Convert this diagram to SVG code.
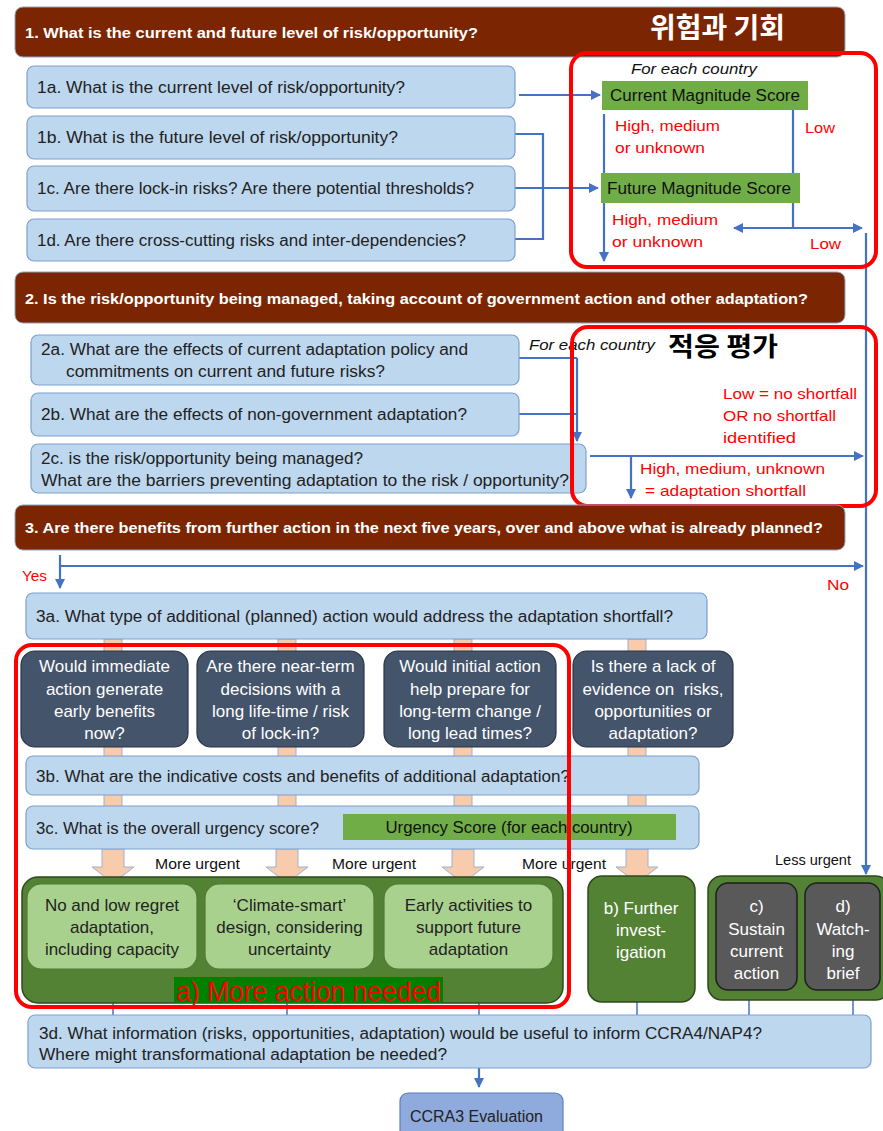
<svg xmlns="http://www.w3.org/2000/svg" width="883" height="1131" viewBox="0 0 883 1131">
  <defs>
    <marker id="arr" viewBox="0 0 10 10" refX="9" refY="5" markerWidth="10" markerHeight="10" markerUnits="userSpaceOnUse" orient="auto-start-reverse">
      <path d="M0,0 L10,5 L0,10 z" fill="#4472C4"/>
    </marker>
    <style>
      text { font-family: "Liberation Sans", Arial, sans-serif; }
      .hdr { fill: #7B2502; stroke: #8FA3C0; stroke-width: 1; }
      .hdrt { fill: #ffffff; font-size: 15px; font-weight: bold; }
      .q { fill: #BDD7EE; stroke: #7F9FCF; stroke-width: 1.2; }
      .qt { fill: #222222; font-size: 16px; }
      .red { fill: none; stroke: #FF0000; stroke-width: 4; }
      .rt { fill: #FF0000; font-size: 15px; }
      .score { fill: #70AD47; }
      .st { fill: #111111; font-size: 16px; }
      .it { fill: #111111; font-size: 14px; font-style: italic; }
      .dark { fill: #44546A; stroke: #2A3546; stroke-width: 1.2; }
      .wt { fill: #ffffff; font-size: 17px; text-anchor: middle; white-space: pre; }
      .cont { fill: #548235; stroke: #2E4A1C; stroke-width: 1.5; }
      .lg { fill: #A9D18E; stroke: #4F7A33; stroke-width: 1.2; }
      .gt { fill: #222222; font-size: 17px; text-anchor: middle; }
      .grey { fill: #595959; stroke: #1E1E1E; stroke-width: 1.5; }
      .peach { fill: #F8CBAD; stroke: #9DB0D0; stroke-width: 1; }
      .conn { fill: none; stroke: #4472C4; stroke-width: 2.2; }
      .thin { fill: none; stroke: #4472C4; stroke-width: 1.5; }
      .urg { fill: #111111; font-size: 14px; }
      .kr { font-family: "Noto Sans CJK KR", sans-serif; font-weight: bold; }
    </style>
  </defs>

  <rect width="883" height="1131" fill="#ffffff"/>

  <!-- connectors -->
  <g id="connectors">
    <path class="conn" d="M519,95 H600" marker-end="url(#arr)"/>
    <path class="conn" d="M515,134 H543 V239 H515"/>
    <path class="conn" d="M515,188 H598" marker-end="url(#arr)"/>
    <path class="conn" d="M604,114 V261" marker-end="url(#arr)"/>
    <path class="conn" d="M793,110 V228"/>
    <path class="conn" d="M734,228 H862" marker-start="url(#arr)" marker-end="url(#arr)"/>
    <path class="conn" d="M866,233 V874" marker-end="url(#arr)"/>
    <path class="conn" d="M519,358 H577 M519,414 H577"/>
    <path class="conn" d="M577,358 V441" marker-end="url(#arr)"/>
    <path class="conn" d="M590,456 H863" marker-end="url(#arr)"/>
    <path class="conn" d="M631,456 V498" marker-end="url(#arr)"/>
    <path class="conn" d="M60,566 H863" marker-end="url(#arr)"/>
    <path class="conn" d="M60,555 V588" marker-end="url(#arr)"/>
    <path class="thin" d="M113,1003 V1015 M287,1003 V1015 M479,1003 V1015 M637,1002 V1015 M749,990 V1015 M853,990 V1015"/>
    <path class="conn" d="M479,1068 V1087" marker-end="url(#arr)"/>
    <!-- peach flow columns -->
    <rect class="peach" x="104" y="639" width="18" height="211"/>
    <rect class="peach" x="278" y="639" width="18" height="211"/>
    <rect class="peach" x="454" y="639" width="18" height="211"/>
    <rect class="peach" x="628" y="639" width="18" height="211"/>
    <path class="peach" d="M102,849 H124 V867 H134 L113,883 L92,867 H102 Z"/>
    <path class="peach" d="M276,849 H298 V867 H308 L287,883 L266,867 H276 Z"/>
    <path class="peach" d="M452,849 H474 V867 H484 L463,883 L442,867 H452 Z"/>
    <path class="peach" d="M626,849 H648 V867 H658 L637,883 L616,867 H626 Z"/>
  </g>

  <!-- section 1 -->
  <g id="header1">
    <rect class="hdr" x="15" y="7" width="830" height="50" rx="8"/>
    <text class="hdrt" x="25" y="38" textLength="453" lengthAdjust="spacingAndGlyphs">1. What is the current and future level of risk/opportunity?</text>
    <text class="kr" x="650" y="38" font-size="28" fill="#ffffff" textLength="135" lengthAdjust="spacingAndGlyphs">위험과 기회</text>
  </g>
  <g id="q1a">
    <rect class="q" x="27" y="66" width="488" height="42" rx="7"/>
    <text class="qt" x="37" y="93" textLength="368" lengthAdjust="spacingAndGlyphs">1a. What is the current level of risk/opportunity?</text>
  </g>
  <g id="q1b">
    <rect class="q" x="27" y="116" width="488" height="43" rx="7"/>
    <text class="qt" x="37" y="143" textLength="361" lengthAdjust="spacingAndGlyphs">1b. What is the future level of risk/opportunity?</text>
  </g>
  <g id="q1c">
    <rect class="q" x="27" y="166" width="488" height="45" rx="7"/>
    <text class="qt" x="37" y="194" textLength="437" lengthAdjust="spacingAndGlyphs">1c. Are there lock-in risks? Are there potential thresholds?</text>
  </g>
  <g id="q1d">
    <rect class="q" x="27" y="219" width="488" height="42" rx="7"/>
    <text class="qt" x="37" y="246" textLength="429" lengthAdjust="spacingAndGlyphs">1d. Are there cross-cutting risks and inter-dependencies?</text>
  </g>
  <g id="magnitude">
    <text class="it" x="631" y="74" textLength="126" lengthAdjust="spacingAndGlyphs">For each country</text>
    <rect class="score" x="602" y="81" width="206" height="29"/>
    <text class="st" x="610" y="101" textLength="190" lengthAdjust="spacingAndGlyphs">Current Magnitude Score</text>
    <rect class="score" x="601" y="173" width="199" height="30"/>
    <text class="st" x="607" y="194" textLength="184" lengthAdjust="spacingAndGlyphs">Future Magnitude Score</text>
    <text class="rt" x="615" y="131" textLength="105" lengthAdjust="spacingAndGlyphs">High, medium</text>
    <text class="rt" x="615" y="153" textLength="90" lengthAdjust="spacingAndGlyphs">or unknown</text>
    <text class="rt" x="805" y="133" textLength="30" lengthAdjust="spacingAndGlyphs">Low</text>
    <text class="rt" x="612" y="225" textLength="106" lengthAdjust="spacingAndGlyphs">High, medium</text>
    <text class="rt" x="612" y="247" textLength="91" lengthAdjust="spacingAndGlyphs">or unknown</text>
    <text class="rt" x="810" y="249" textLength="31" lengthAdjust="spacingAndGlyphs">Low</text>
    <rect class="red" x="571" y="53" width="305" height="214" rx="16"/>
  </g>

  <!-- section 2 -->
  <g id="header2">
    <rect class="hdr" x="15" y="272" width="830" height="51" rx="8"/>
    <text class="hdrt" x="25" y="304" textLength="783" lengthAdjust="spacingAndGlyphs">2. Is the risk/opportunity being managed, taking account of government action and other adaptation?</text>
  </g>
  <g id="q2a">
    <rect class="q" x="31" y="335" width="488" height="50" rx="7"/>
    <text class="qt" x="41" y="355" textLength="427" lengthAdjust="spacingAndGlyphs">2a. What are the effects of current adaptation policy and</text>
    <text class="qt" x="66" y="377" textLength="319" lengthAdjust="spacingAndGlyphs">commitments on current and future risks?</text>
  </g>
  <g id="q2b">
    <rect class="q" x="31" y="393" width="488" height="43" rx="7"/>
    <text class="qt" x="41" y="420" textLength="426" lengthAdjust="spacingAndGlyphs">2b. What are the effects of non-government adaptation?</text>
  </g>
  <g id="q2c">
    <rect class="q" x="31" y="444" width="555" height="49" rx="7"/>
    <text class="qt" x="41" y="464" textLength="322" lengthAdjust="spacingAndGlyphs">2c. is the risk/opportunity being managed?</text>
    <text class="qt" x="41" y="486" textLength="528" lengthAdjust="spacingAndGlyphs">What are the barriers preventing adaptation to the risk / opportunity?</text>
  </g>
  <g id="adaptation">
    <text class="it" x="529" y="350" textLength="126" lengthAdjust="spacingAndGlyphs">For each country</text>
    <text class="kr" x="668" y="356" font-size="26" fill="#000000" textLength="110" lengthAdjust="spacingAndGlyphs">적응 평가</text>
    <text class="rt" x="723" y="399" textLength="134" lengthAdjust="spacingAndGlyphs">Low = no shortfall</text>
    <text class="rt" x="723" y="421" textLength="113" lengthAdjust="spacingAndGlyphs">OR no shortfall</text>
    <text class="rt" x="723" y="443" textLength="73" lengthAdjust="spacingAndGlyphs">identified</text>
    <text class="rt" x="640" y="474" textLength="185" lengthAdjust="spacingAndGlyphs">High, medium, unknown</text>
    <text class="rt" x="645" y="496" textLength="161" lengthAdjust="spacingAndGlyphs">= adaptation shortfall</text>
    <rect class="red" x="572" y="327" width="304" height="179" rx="16"/>
  </g>

  <!-- section 3 -->
  <g id="header3">
    <rect class="hdr" x="15" y="505" width="830" height="45" rx="8"/>
    <text class="hdrt" x="25" y="533" textLength="798" lengthAdjust="spacingAndGlyphs">3. Are there benefits from further action in the next five years, over and above what is already planned?</text>
  </g>
  <g id="labels3">
    <text class="rt" x="22" y="581" textLength="25" lengthAdjust="spacingAndGlyphs">Yes</text>
    <text class="rt" x="827" y="590" textLength="22" lengthAdjust="spacingAndGlyphs">No</text>
  </g>
  <g id="q3a">
    <rect class="q" x="26" y="593" width="681" height="46" rx="7"/>
    <text class="qt" x="36" y="622" textLength="637" lengthAdjust="spacingAndGlyphs">3a. What type of additional (planned) action would address the adaptation shortfall?</text>
  </g>
  <g id="immediate">
    <rect class="dark" x="21" y="651" width="167" height="96" rx="14"/>
    <text class="wt" x="104.5" y="672">Would immediate</text>
    <text class="wt" x="104.5" y="695">action generate</text>
    <text class="wt" x="104.5" y="717">early benefits</text>
    <text class="wt" x="104.5" y="739">now?</text>
  </g>
  <g id="nearterm">
    <rect class="dark" x="197" y="651" width="167" height="96" rx="14"/>
    <text class="wt" x="280.5" y="672">Are there near-term</text>
    <text class="wt" x="280.5" y="695">decisions with a</text>
    <text class="wt" x="280.5" y="717">long life-time / risk</text>
    <text class="wt" x="280.5" y="739">of lock-in?</text>
  </g>
  <g id="initial">
    <rect class="dark" x="384" y="651" width="172" height="96" rx="14"/>
    <text class="wt" x="470" y="672">Would initial action</text>
    <text class="wt" x="470" y="695">help prepare for</text>
    <text class="wt" x="470" y="717">long-term change /</text>
    <text class="wt" x="470" y="739">long lead times?</text>
  </g>
  <g id="evidence">
    <rect class="dark" x="573" y="651" width="160" height="96" rx="14"/>
    <text class="wt" x="653" y="672">Is there a lack of</text>
    <text class="wt" x="653" y="695">evidence on  risks,</text>
    <text class="wt" x="653" y="717">opportunities or</text>
    <text class="wt" x="653" y="739">adaptation?</text>
  </g>
  <g id="q3b">
    <rect class="q" x="26" y="756" width="673" height="39" rx="7"/>
    <text class="qt" x="36" y="782" textLength="534" lengthAdjust="spacingAndGlyphs">3b. What are the indicative costs and benefits of additional adaptation?</text>
  </g>
  <g id="q3c">
    <rect class="q" x="26" y="806" width="673" height="43" rx="7"/>
    <text class="qt" x="36" y="834" textLength="283" lengthAdjust="spacingAndGlyphs">3c. What is the overall urgency score?</text>
    <rect class="score" x="343" y="814" width="333" height="26"/>
    <text class="st" x="509" y="833" text-anchor="middle" textLength="247" lengthAdjust="spacingAndGlyphs">Urgency Score (for each country)</text>
  </g>
  <g id="urgency-labels">
    <text class="urg" x="155" y="869" textLength="85" lengthAdjust="spacingAndGlyphs">More urgent</text>
    <text class="urg" x="332" y="869" textLength="84" lengthAdjust="spacingAndGlyphs">More urgent</text>
    <text class="urg" x="522" y="869" textLength="84" lengthAdjust="spacingAndGlyphs">More urgent</text>
    <text class="urg" x="775" y="865" textLength="76" lengthAdjust="spacingAndGlyphs">Less urgent</text>
  </g>

  <!-- outcomes -->
  <g id="more-action">
    <rect class="cont" x="22" y="877" width="541" height="126" rx="16"/>
    <rect class="lg" x="27" y="884" width="170" height="85" rx="14"/>
    <text class="gt" x="112" y="911">No and low regret</text>
    <text class="gt" x="112" y="933">adaptation,</text>
    <text class="gt" x="112" y="955">including capacity</text>
    <rect class="lg" x="205" y="884" width="169" height="85" rx="14"/>
    <text class="gt" x="289.5" y="911">‘Climate-smart’</text>
    <text class="gt" x="289.5" y="933">design, considering</text>
    <text class="gt" x="289.5" y="955">uncertainty</text>
    <rect class="lg" x="384" y="884" width="169" height="85" rx="14"/>
    <text class="gt" x="468.5" y="911">Early activities to</text>
    <text class="gt" x="468.5" y="933">support future</text>
    <text class="gt" x="468.5" y="955">adaptation</text>
    <rect x="174" y="977" width="269" height="26" fill="#008000"/>
    <text x="176" y="1001" font-size="28" fill="#FF0000" textLength="265" lengthAdjust="spacingAndGlyphs">a) More action needed</text>
    <rect class="red" x="16" y="645" width="553" height="362" rx="16"/>
  </g>
  <g id="further">
    <rect class="cont" x="588" y="876" width="107" height="126" rx="14"/>
    <text class="wt" x="641" y="914">b) Further</text>
    <text class="wt" x="641" y="936">invest-</text>
    <text class="wt" x="641" y="958">igation</text>
  </g>
  <g id="sustain-watch">
    <rect class="cont" x="708" y="876" width="182" height="124" rx="14"/>
    <rect class="grey" x="716" y="883" width="81" height="107" rx="12"/>
    <text class="wt" x="756.5" y="912">c)</text>
    <text class="wt" x="756.5" y="935">Sustain</text>
    <text class="wt" x="756.5" y="957">current</text>
    <text class="wt" x="756.5" y="979">action</text>
    <rect class="grey" x="805" y="883" width="75" height="107" rx="12"/>
    <text class="wt" x="843" y="912">d)</text>
    <text class="wt" x="843" y="935">Watch-</text>
    <text class="wt" x="843" y="957">ing</text>
    <text class="wt" x="843" y="979">brief</text>
  </g>
  <g id="q3d">
    <rect class="q" x="28" y="1015" width="843" height="53" rx="7"/>
    <text class="qt" x="39" y="1039" textLength="723" lengthAdjust="spacingAndGlyphs">3d. What information (risks, opportunities, adaptation) would be useful to inform CCRA4/NAP4?</text>
    <text class="qt" x="39" y="1060" textLength="408" lengthAdjust="spacingAndGlyphs">Where might transformational adaptation be needed?</text>
  </g>
  <g id="evaluation">
    <rect x="400" y="1093" width="163" height="50" rx="8" fill="#8FAADC" stroke="#5B7FBF" stroke-width="1.2"/>
    <text class="qt" x="410" y="1122" textLength="133" lengthAdjust="spacingAndGlyphs">CCRA3 Evaluation</text>
  </g>
</svg>
